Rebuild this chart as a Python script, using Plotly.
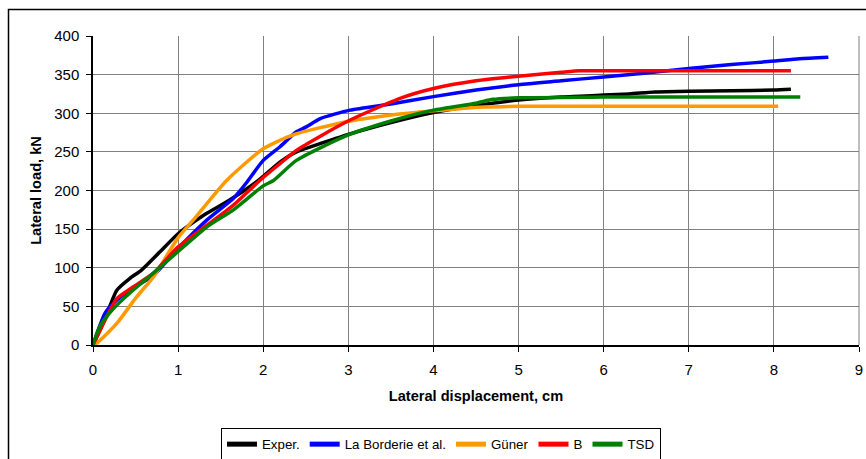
import plotly.graph_objects as go

# ---- data ----
exper_x = [0, 0.12, 0.28, 0.43, 0.57, 0.79, 1.0, 1.3, 1.61, 1.92, 2.2, 2.39, 2.6, 2.98, 3.5, 4.0, 4.5, 5.0, 5.5, 5.72, 6.0, 6.3, 6.6, 7.0, 7.5, 8.0, 8.2]
exper_y = [0, 28, 71, 86, 97, 121, 144, 168, 188, 211, 237, 250, 258, 272, 288, 301, 310, 317, 321, 322, 323.5, 325, 327.5, 328.5, 329, 330, 331]

lab_x = [0, 0.14, 0.24, 0.43, 0.71, 1.0, 1.34, 1.65, 1.81, 2.0, 2.2, 2.39, 2.5, 2.67, 3.02, 3.5, 4.0, 4.5, 5.0, 5.5, 6.0, 6.5, 7.0, 7.5, 8.0, 8.3, 8.64]
lab_y = [0, 41, 54, 71, 90, 125, 162, 190, 211, 239, 257, 276, 282, 293, 304, 312, 321.5, 330, 337, 342, 347, 352, 358, 363, 367.5, 370.5, 372.4]

guner_x = [0, 0.04, 0.28, 0.51, 0.71, 1.0, 1.18, 1.57, 2.0, 2.35, 2.98, 3.6, 4.2, 4.6, 5.0, 6.0, 7.0, 8.05]
guner_y = [0, 2, 28, 62, 88, 139, 162, 213, 254, 272, 289, 299, 305, 308, 309, 309, 309, 309]

b_x = [0, 0.14, 0.28, 0.47, 0.71, 1.0, 1.34, 1.65, 1.96, 2.2, 2.39, 2.98, 3.6, 4.0, 4.5, 5.0, 5.5, 5.72, 6.0, 7.0, 8.0, 8.2]
b_y = [0, 32, 60, 75, 93, 127, 155, 181, 213, 235, 252, 289, 319, 332, 342, 348, 353, 355, 355, 355, 355, 355]

tsd_x = [0, 0.08, 0.24, 0.43, 0.71, 1.0, 1.34, 1.65, 2.0, 2.12, 2.39, 2.98, 3.5, 4.0, 4.5, 4.7, 5.0, 5.72, 6.0, 7.0, 8.0, 8.31]
tsd_y = [0, 24, 47, 67, 93, 121, 153, 175, 206, 213, 239, 271, 290, 304, 313, 318, 320, 320.6, 321, 321, 321, 321]

series_names = ["Exper.", "La Borderie et al.", "Güner", "B", "TSD"]
series_colors = ["#000000", "#0000FF", "#FF9900", "#FF0000", "#008000"]

x_ticks = list(range(0, 10))
y_ticks = list(range(0, 401, 50))

fig = go.Figure()
for name, color, xs, ys in zip(series_names, series_colors,
                               [exper_x, lab_x, guner_x, b_x, tsd_x],
                               [exper_y, lab_y, guner_y, b_y, tsd_y]):
    fig.add_trace(go.Scatter(x=xs, y=ys, mode="lines", name=name,
                             line=dict(color=color, width=3.5, shape="spline", smoothing=0.6)))

font = "Liberation Sans, Arial, sans-serif"
W, H = 866, 459
L, R, T, B = 93, 7, 36, 114
pw, ph = W - L - R, H - T - B

def px_x(p):
    return (p - L) / pw

def px_y(p):
    return (H - B - p) / ph

fig.update_layout(
    width=W, height=H,
    margin=dict(l=L, r=R, t=T, b=B, autoexpand=False),
    paper_bgcolor="white", plot_bgcolor="white",
    font=dict(family=font, size=15, color="black"),
    showlegend=True,
    legend=dict(orientation="h", x=px_x(441), xanchor="center", y=px_y(428), yanchor="top",
                bordercolor="black", borderwidth=1, font=dict(size=13.3, family=font),
                itemwidth=30, tracegroupgap=0, itemsizing="constant"),
    xaxis=dict(range=[0, 9], tickvals=x_ticks, ticktext=[str(v) for v in x_ticks],
               showgrid=True, gridcolor="#808080", gridwidth=1,
               showline=True, linecolor="black", linewidth=1.5, mirror=False,
               ticks="outside", ticklen=5, tickcolor="black", zeroline=False,
               automargin=False, ticklabelstandoff=5,
               title=dict(text="<b>Lateral displacement, cm</b>", font=dict(size=14.6, family=font), standoff=14)),
    yaxis=dict(range=[0, 400], tickvals=y_ticks, ticktext=[str(v) for v in y_ticks],
               showgrid=True, gridcolor="#808080", gridwidth=1,
               showline=True, linecolor="black", linewidth=1.5, mirror=False,
               ticks="outside", ticklen=5, tickcolor="black", zeroline=False,
               automargin=False, ticklabelstandoff=4,
               title=dict(text="<b>Lateral load, kN</b>", font=dict(size=14.6, family=font), standoff=9)),
)

# plot-area right border (gray)
fig.add_shape(type="line", xref="paper", yref="paper", x0=1, x1=1, y0=0, y1=1,
              line=dict(color="#808080", width=1))
# outer chart border
fig.add_shape(type="rect", xref="paper", yref="paper",
              x0=px_x(8.5), x1=px_x(875), y0=px_y(470), y1=px_y(9.5),
              line=dict(color="black", width=1.5), layer="below")

fig.write_html("out.html", config={"displayModeBar": False},
               post_script="document.body.style.margin='0';document.body.style.overflow='hidden';")
